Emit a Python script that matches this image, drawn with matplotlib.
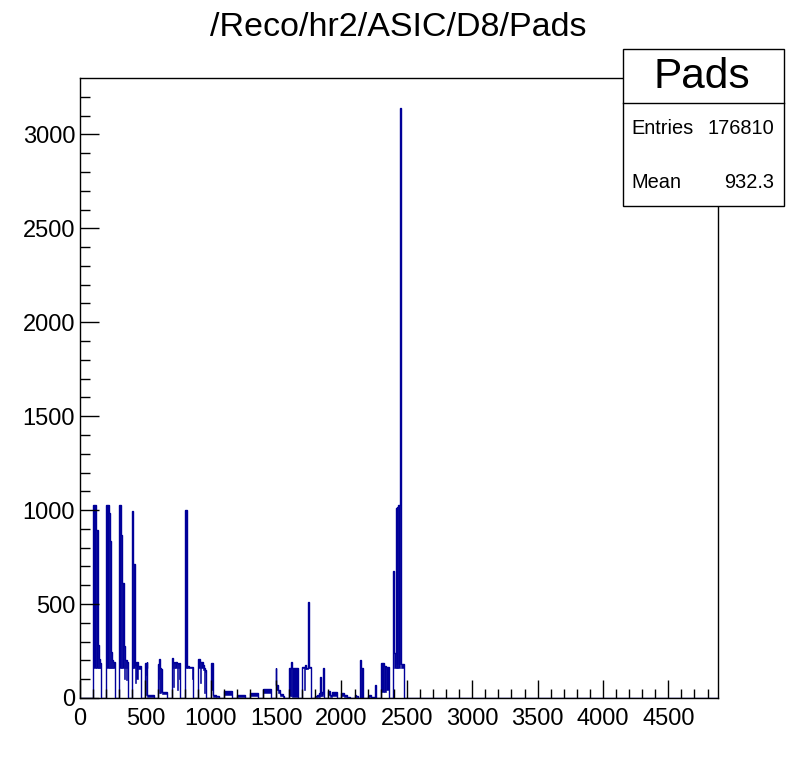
import matplotlib
matplotlib.use("Agg")
import matplotlib.pyplot as plt
from matplotlib.patches import Rectangle
from matplotlib.lines import Line2D
import numpy as np

plt.rcParams['font.family'] = ['Liberation Sans', 'DejaVu Sans']

title = "/Reco/hr2/ASIC/D8/Pads"
stat_name = "Pads"
stat_entries = "176810"
stat_mean = "932.3"

# histogram read as segments: start, end, upper envelope, lower envelope
seg_x0 = [100, 125, 138, 146, 154, 160,
          200, 220, 231, 238, 246, 251,
          300, 315, 325, 333, 341, 350, 356,
          400, 404, 422, 430, 440,
          500, 506, 510, 516,
          600, 605, 613, 623, 631,
          700, 712, 720, 730, 740, 748, 756,
          800, 815, 820, 830, 856,
          900, 915, 925, 940, 952, 958,
          1000, 1004, 1018, 1040,
          1100, 1200, 1300, 1400,
          1500, 1503, 1518, 1533, 1550,
          1600, 1612, 1618,
          1700, 1710, 1718, 1730, 1746, 1751,
          1800, 1815, 1830, 1838, 1845, 1858,
          1900, 1912, 1926,
          2000, 2018, 2040,
          2100, 2112, 2125, 2144, 2150, 2162,
          2200, 2212, 2225, 2258,
          2300, 2306, 2322, 2340,
          2393, 2405, 2415, 2423, 2428, 2435, 2448, 2456]
seg_x1 = [125, 138, 146, 154, 160, 164,
          220, 231, 238, 246, 251, 264,
          315, 325, 333, 341, 350, 356, 364,
          404, 422, 430, 440, 464,
          506, 510, 516, 564,
          605, 613, 623, 631, 664,
          712, 720, 730, 740, 748, 756, 764,
          815, 820, 830, 856, 864,
          915, 925, 940, 952, 958, 964,
          1004, 1018, 1040, 1064,
          1164, 1264, 1364, 1464,
          1503, 1518, 1533, 1550, 1564,
          1612, 1618, 1664,
          1710, 1718, 1730, 1746, 1751, 1764,
          1815, 1830, 1838, 1845, 1858, 1864,
          1912, 1926, 1964,
          2018, 2040, 2064,
          2112, 2125, 2144, 2150, 2162, 2164,
          2212, 2225, 2258, 2264,
          2306, 2322, 2340, 2364,
          2405, 2415, 2423, 2428, 2435, 2448, 2456, 2475]
seg_hi = [1027, 894, 282, 208, 186, 160,
          1027, 984, 835, 245, 202, 192,
          1027, 867, 612, 277, 202, 200, 192,
          995, 713, 175, 193, 170,
          186, 160, 193, 16,
          181, 208, 160, 155, 32,
          211, 190, 185, 190, 185, 180, 186,
          1000, 277, 170, 165, 165,
          206, 190, 190, 175, 160, 150,
          165, 186, 16, 11,
          38, 18, 28, 50,
          158, 69, 43, 21, 8,
          158, 193, 158,
          163, 163, 176, 160, 511, 167,
          11, 16, 25, 113, 30, 158,
          39, 16, 32,
          28, 18, 7,
          16, 11, 0, 202, 158, 0,
          11, 16, 7, 69,
          158, 185, 172, 163,
          678, 238, 1010, 181, 1017, 1027, 3140, 181]
seg_lo = [160, 160, 160, 160, 160, 160,
          160, 160, 160, 160, 160, 160,
          160, 160, 160, 100, 160, 96, 160,
          160, 160, 80, 100, 155,
          120, 16, 16, 5,
          100, 27, 27, 30, 20,
          160, 60, 160, 160, 40, 160, 100,
          160, 160, 160, 160, 100,
          160, 80, 160, 150, 27, 140,
          60, 43, 5, 3,
          16, 6, 10, 25,
          60, 40, 25, 10, 3,
          10, 10, 5,
          160, 40, 155, 155, 158, 158,
          3, 5, 5, 10, 10, 20,
          18, 5, 12,
          10, 5, 3,
          3, 3, 0, 0, 0, 0,
          3, 3, 3, 5,
          5, 30, 30, 40,
          240, 158, 158, 158, 158, 158, 181, 158]

x_range = (0, 4880)
y_range = (0, 3300)
x_major = [0, 500, 1000, 1500, 2000, 2500, 3000, 3500, 4000, 4500]
y_major = [0, 500, 1000, 1500, 2000, 2500, 3000]

color = '#000099'
W, H = 798, 776
fig = plt.figure(figsize=(W / 100, H / 100), dpi=100)
ax = fig.add_axes([80 / W, 78 / H, 638 / W, 620 / H])

# build step outline with zeros in gaps
edges = [x_range[0]]
vals = []
for a, b, h in zip(seg_x0, seg_x1, seg_hi):
    if a > edges[-1]:
        vals.append(0)
        edges.append(a)
    vals.append(h)
    edges.append(b)
vals.append(0)
edges.append(x_range[1])

x0 = np.array(seg_x0, float)
x1 = np.array(seg_x1, float)
hi = np.array(seg_hi, float)
lo = np.array(seg_lo, float)
ax.bar(x0, hi - lo, width=x1 - x0, bottom=lo, align='edge', color=color,
       edgecolor=color, linewidth=0.4)
ax.stairs(vals, edges, baseline=0, color=color, linewidth=1.0)

ax.set_xlim(*x_range)
ax.set_ylim(*y_range)
ax.set_xticks(x_major)
ax.set_yticks(y_major)
ax.set_xticks(np.arange(0, x_range[1], 100), minor=True)
ax.set_yticks(np.arange(0, y_range[1], 100), minor=True)
ax.tick_params(axis='both', which='both', direction='in', top=False, right=False,
               labelsize=17, width=1, color='black')
ax.tick_params(axis='x', which='major', length=13, pad=7)
ax.tick_params(axis='x', which='minor', length=6.5)
ax.tick_params(axis='y', which='major', length=14, pad=3.5)
ax.tick_params(axis='y', which='minor', length=7)
for s in ax.spines.values():
    s.set_linewidth(1)
    s.set_color('black')

fig.text(398 / W, 1 - 28 / H, title, ha='center', va='center', fontsize=24.5)

# stats box
bx0, bx1, by0, by1, bdiv = 622.5, 783.5, 48.5, 206, 102.5
fig.patches.append(Rectangle((bx0 / W, 1 - by1 / H), (bx1 - bx0) / W, (by1 - by0) / H,
                             transform=fig.transFigure, facecolor='white',
                             edgecolor='black', linewidth=1, zorder=5))
fig.lines.append(Line2D([bx0 / W, bx1 / W], [1 - bdiv / H, 1 - bdiv / H],
                        transform=fig.transFigure, color='black', linewidth=1, zorder=6))
fig.text(702 / W, 1 - 77 / H, stat_name, ha='center', va='center', fontsize=30.5, zorder=7)
fig.text(631 / W, 1 - 129 / H, "Entries", ha='left', va='center', fontsize=14.4, zorder=7)
fig.text(774 / W, 1 - 129 / H, stat_entries, ha='right', va='center', fontsize=14.4, zorder=7)
fig.text(631 / W, 1 - 182 / H, "Mean", ha='left', va='center', fontsize=14.4, zorder=7)
fig.text(774 / W, 1 - 182 / H, stat_mean, ha='right', va='center', fontsize=14.4, zorder=7)

fig.savefig("out.png", dpi=100)
